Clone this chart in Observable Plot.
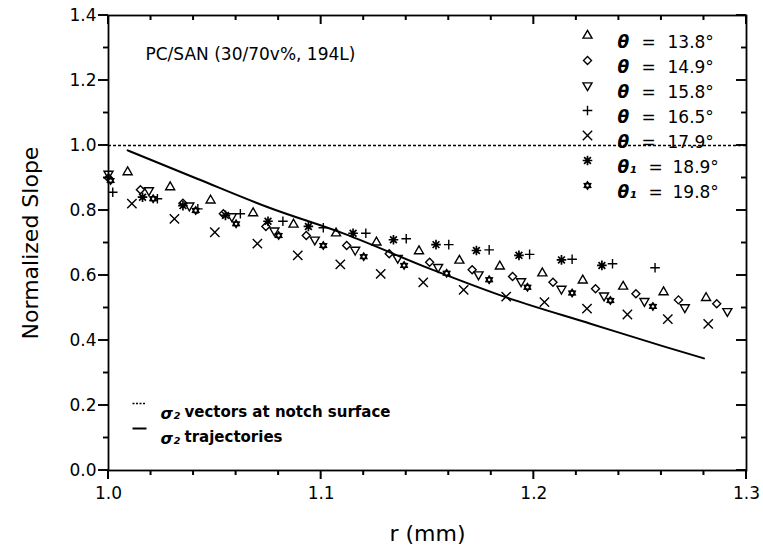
<!DOCTYPE html>
<html><head><meta charset="utf-8">
<script src="https://cdn.jsdelivr.net/npm/d3@7"></script>
<script src="https://cdn.jsdelivr.net/npm/@observablehq/plot@0.6"></script>
<style>body{margin:0;background:#fff}</style>
</head><body><div id="chart"></div>
<script>
// ---- data ----
const r138 = [1.009,1.029,1.048,1.068,1.087,1.107,1.126,1.146,1.165,1.184,1.204,1.223,1.242,1.261,1.281];
const v138 = [0.918,0.872,0.831,0.792,0.757,0.730,0.702,0.675,0.646,0.628,0.607,0.585,0.566,0.549,0.531];
const r149 = [1.000,1.015,1.035,1.054,1.074,1.093,1.112,1.132,1.151,1.171,1.190,1.209,1.229,1.248,1.268,1.286];
const v149 = [0.900,0.864,0.822,0.790,0.751,0.723,0.692,0.667,0.641,0.618,0.597,0.579,0.559,0.544,0.525,0.513];
const r158 = [1.000,1.019,1.038,1.058,1.078,1.097,1.116,1.136,1.155,1.174,1.194,1.213,1.233,1.252,1.271,1.291];
const v158 = [0.913,0.862,0.815,0.782,0.738,0.710,0.679,0.654,0.626,0.603,0.582,0.559,0.538,0.521,0.502,0.490];
const r165 = [1.002,1.023,1.042,1.062,1.082,1.101,1.121,1.140,1.160,1.179,1.198,1.218,1.237,1.257];
const v165 = [0.856,0.836,0.805,0.790,0.767,0.747,0.730,0.713,0.695,0.679,0.665,0.650,0.636,0.624];
const r179 = [1.011,1.031,1.050,1.070,1.089,1.109,1.128,1.148,1.167,1.187,1.205,1.225,1.244,1.263,1.282];
const v179 = [0.821,0.774,0.733,0.698,0.662,0.634,0.605,0.579,0.556,0.535,0.518,0.498,0.480,0.466,0.451];
const r189 = [1.016,1.035,1.055,1.075,1.094,1.115,1.134,1.154,1.173,1.193,1.213,1.232];
const v189 = [0.841,0.815,0.785,0.767,0.751,0.730,0.710,0.695,0.677,0.662,0.648,0.631];
const r198 = [1.001,1.021,1.041,1.060,1.080,1.101,1.120,1.139,1.159,1.179,1.197,1.218,1.236,1.256];
const v198 = [0.892,0.836,0.800,0.759,0.723,0.692,0.658,0.631,0.607,0.587,0.564,0.546,0.523,0.505];
// sigma2 trajectories (solid curve)
const rTraj = [1.009,1.042,1.075,1.111,1.151,1.186,1.227,1.261,1.280];
const vTraj = [0.985,0.897,0.810,0.728,0.621,0.535,0.451,0.382,0.345];
// sigma2 vectors at notch surface (dashed reference)
const vNotch = [1.0];
// legend labels
const angleLabels = ["13.8°","14.9°","15.8°","16.5°","17.9°","18.9°","19.8°"];
const thetaLabels = ["θ","θ","θ","θ","θ","θ₁","θ₁"];
// ticks
const xMajor = [1.0, 1.1, 1.2, 1.3];
const xTickLabels = ["1.0","1.1","1.2","1.3"];
const xMinor = [1.02,1.04,1.06,1.08,1.12,1.14,1.16,1.18,1.22,1.24,1.26,1.28];
const yMajor = [0, 0.2, 0.4, 0.6, 0.8, 1.0, 1.2, 1.4];
const yTickLabels = ["0.0","0.2","0.4","0.6","0.8","1.0","1.2","1.4"];
const yMinor = [0.1, 0.3, 0.5, 0.7, 0.9, 1.1, 1.3];

// ---- custom symbols ----
const k = s => Math.sqrt(s / Math.PI);
const symUp = {draw(c, s){ const r = k(s); c.moveTo(0,-r); c.lineTo(r*0.866, r*0.5); c.lineTo(-r*0.866, r*0.5); c.closePath(); }};
const symDown = {draw(c, s){ const r = k(s); c.moveTo(0,r); c.lineTo(r*0.866,-r*0.5); c.lineTo(-r*0.866,-r*0.5); c.closePath(); }};
const symDiamond = {draw(c, s){ const r = k(s); c.moveTo(0,-r); c.lineTo(r,0); c.lineTo(0,r); c.lineTo(-r,0); c.closePath(); }};
const symPlus = {draw(c, s){ const r = k(s); c.moveTo(-r,0); c.lineTo(r,0); c.moveTo(0,-r); c.lineTo(0,r); }};
const symTimes = {draw(c, s){ const r = k(s)*0.707; c.moveTo(-r,-r); c.lineTo(r,r); c.moveTo(-r,r); c.lineTo(r,-r); }};
const symStar8 = {draw(c, s){ const r = k(s); const q = r*0.707; c.moveTo(-r,0); c.lineTo(r,0); c.moveTo(0,-r); c.lineTo(0,r); c.moveTo(-q,-q); c.lineTo(q,q); c.moveTo(-q,q); c.lineTo(q,-q); }};
const symFlower = {draw(c, s){ const r = k(s); for (let i = 0; i < 12; i++) { const a = Math.PI * i / 6 - Math.PI/2; const rr = i % 2 ? r*0.62 : r; const x = rr*Math.cos(a), y = rr*Math.sin(a); if (i) c.lineTo(x,y); else c.moveTo(x,y);} c.closePath(); }};
// short horizontal line used as legend key
const symDash = {draw(c){ c.moveTo(-7,0); c.lineTo(7,0); }};

const series = [
  {r: r138, v: v138, symbol: symUp, size: 5.2, fill: "none", sw: 1.4},
  {r: r149, v: v149, symbol: symDiamond, size: 4, fill: "none", sw: 1.4},
  {r: r158, v: v158, symbol: symDown, size: 5.2, fill: "none", sw: 1.4},
  {r: r165, v: v165, symbol: symPlus, size: 4.8, fill: "none", sw: 1.4},
  {r: r179, v: v179, symbol: symTimes, size: 6.6, fill: "none", sw: 1.4},
  {r: r189, v: v189, symbol: symStar8, size: 4.8, fill: "none", sw: 1.7},
  {r: r198, v: v198, symbol: symFlower, size: 5, fill: "black", sw: 0}
];

const W = 763, H = 555, mL = 108, mR = 17, mT = 15, mB = 85;
const xDom = [1.0, 1.3], yDom = [0, 1.4];
const pxX = (xDom[1] - xDom[0]) / (W - mL - mR);   // data units per pixel
const pxY = (yDom[1] - yDom[0]) / (H - mT - mB);
const font = "DejaVu Sans";
const ink = "black";

const marks = [];
// frame
marks.push(Plot.frame({stroke: ink, strokeWidth: 1.8}));
// tick marks as thin filled rectangles (bottom/left outward, top/right inward)
const vTick = (vals, len, base, dir) => Plot.rect(vals, {
  x1: d => d - pxX, x2: d => d + pxX,
  y1: () => base, y2: () => base + dir * len * pxY, fill: ink, inset: 0});
const hTick = (vals, len, base, dir) => Plot.rect(vals, {
  y1: d => d - pxY * 0.95, y2: d => d + pxY * 0.95,
  x1: () => base, x2: () => base + dir * len * pxX, fill: ink, inset: 0});
marks.push(vTick(xMajor, 9, yDom[0], -1), vTick(xMinor, 5, yDom[0], -1));
marks.push(vTick(xMajor, 9, yDom[1], -1), vTick(xMinor, 5, yDom[1], -1));
marks.push(hTick(yMajor, 10, xDom[0], -1), hTick(yMinor, 5, xDom[0], -1));
marks.push(hTick(yMajor, 10, xDom[1], -1), hTick(yMinor, 5, xDom[1], -1));
// tick labels
marks.push(Plot.axisX(xMajor, {anchor: "bottom", tickSize: 0, tickPadding: 16, fontSize: 17, tickFormat: d => xTickLabels[xMajor.indexOf(d)], label: null}));
marks.push(Plot.axisY(yMajor, {anchor: "left", tickSize: 0, tickPadding: 12, fontSize: 17, tickFormat: d => yTickLabels[yMajor.indexOf(d)], label: null}));
// reference dashed line and trajectory curve
marks.push(Plot.ruleY(vNotch, {y: d => d, stroke: ink, strokeWidth: 1.3, strokeDasharray: "3,2"}));
marks.push(Plot.line(rTraj.map((r, i) => ({r, v: vTraj[i]})), {x: "r", y: "v", stroke: ink, strokeWidth: 2, curve: "monotone-x"}));
// data points
series.forEach(s => {
  const data = s.r.map((r, i) => ({r, v: s.v[i]}));
  marks.push(Plot.dot(data, {x: "r", y: "v", symbol: () => s.symbol, r: s.size, stroke: s.sw ? ink : "none", fill: s.fill, strokeWidth: s.sw}));
  if (s.symbol === symFlower) marks.push(Plot.dot(data, {x: "r", y: "v", r: 1.2, fill: "white"}));
});
// legend (top right)
series.forEach((s, i) => {
  const dy = 20 + 25 * i;
  marks.push(Plot.dot([0], {frameAnchor: "top-left", dx: 479, dy, symbol: () => s.symbol, r: s.size, stroke: s.sw ? ink : "none", fill: s.fill, strokeWidth: s.sw}));
  if (s.symbol === symFlower) marks.push(Plot.dot([0], {frameAnchor: "top-left", dx: 479, dy, r: 1.2, fill: "white"}));
  const sub = thetaLabels[i].length > 1;
  marks.push(Plot.text([thetaLabels[i]], {text: d => d, frameAnchor: "top-left", dx: 509, dy, textAnchor: "start", fontSize: 17, fontWeight: "bold", fontStyle: "italic"}));
  marks.push(Plot.text(["="], {text: d => d, frameAnchor: "top-left", dx: sub ? 540 : 533, dy, textAnchor: "start", fontSize: 17}));
  marks.push(Plot.text([angleLabels[i]], {text: d => d, frameAnchor: "top-left", dx: sub ? 564 : 559, dy, textAnchor: "start", fontSize: 17}));
});
// annotation top-left
marks.push(Plot.text(["PC/SAN (30/70v%, 194L)"], {text: d => d, frameAnchor: "top-left", dx: 37, dy: 32, textAnchor: "start", fontSize: 17}));
// bottom-left legend
marks.push(Plot.dot([0], {frameAnchor: "top-left", dx: 31, dy: 388, symbol: () => symDash, stroke: ink, strokeWidth: 1.3, strokeDasharray: "2,1.5"}));
marks.push(Plot.dot([0], {frameAnchor: "top-left", dx: 31, dy: 413, symbol: () => symDash, stroke: ink, strokeWidth: 2}));
marks.push(Plot.text(["σ₂"], {text: d => d, frameAnchor: "top-left", dx: 52, dy: 392, textAnchor: "start", fontSize: 16, fontWeight: "bold", fontStyle: "italic"}));
marks.push(Plot.text(["vectors at notch surface"], {text: d => d, frameAnchor: "top-left", dx: 76, dy: 391, textAnchor: "start", fontSize: 15, fontWeight: "bold"}));
marks.push(Plot.text(["σ₂"], {text: d => d, frameAnchor: "top-left", dx: 52, dy: 417, textAnchor: "start", fontSize: 16, fontWeight: "bold", fontStyle: "italic"}));
marks.push(Plot.text(["trajectories"], {text: d => d, frameAnchor: "top-left", dx: 76, dy: 416, textAnchor: "start", fontSize: 15, fontWeight: "bold"}));
// axis titles
marks.push(Plot.text(["Normalized Slope"], {text: d => d, frameAnchor: "left", dx: -78, rotate: -90, textAnchor: "middle", fontSize: 22}));
marks.push(Plot.text(["r (mm)"], {text: d => d, frameAnchor: "bottom", dy: 70, textAnchor: "middle", fontSize: 22}));

const chart = Plot.plot({
  width: W, height: H,
  marginLeft: mL, marginRight: mR, marginTop: mT, marginBottom: mB,
  x: {domain: xDom},
  y: {domain: yDom},
  style: {fontFamily: font, background: "white", color: "black", overflow: "visible"},
  marks
});
document.getElementById("chart").appendChild(chart);
</script>
</body></html>
